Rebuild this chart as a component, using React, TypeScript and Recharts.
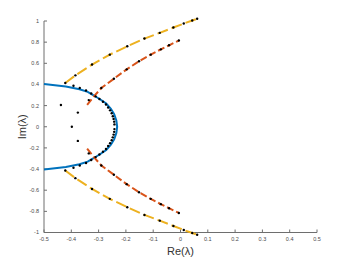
import React from 'react';
import { Label, Scatter, ScatterChart, XAxis, YAxis } from 'recharts';

// eigenvalue locus, (Re, Im) pairs
const bluePath: [number, number][] = [
  [-0.5, 0.404], [-0.42, 0.381], [-0.37, 0.355], [-0.34, 0.33], [-0.32, 0.3],
  [-0.295, 0.26], [-0.272, 0.22], [-0.255, 0.17], [-0.243, 0.12], [-0.235, 0.06],
  [-0.232, 0], [-0.235, -0.06], [-0.243, -0.12], [-0.255, -0.17], [-0.272, -0.22],
  [-0.295, -0.26], [-0.32, -0.3], [-0.34, -0.33], [-0.37, -0.355], [-0.42, -0.381],
  [-0.5, -0.404],
];

const redUpper: [number, number][] = [
  [-0.342, 0.208], [-0.318, 0.285], [-0.29, 0.366], [-0.244, 0.454], [-0.197, 0.543],
  [-0.152, 0.619], [-0.109, 0.682], [-0.072, 0.732], [-0.042, 0.77], [-0.006, 0.815],
];
const redLower: [number, number][] = [
  [-0.342, -0.208], [-0.318, -0.285], [-0.29, -0.366], [-0.244, -0.454], [-0.197, -0.543],
  [-0.152, -0.619], [-0.109, -0.682], [-0.072, -0.732], [-0.042, -0.77], [-0.006, -0.815],
];

const yellowUpper: [number, number][] = [
  [-0.422, 0.414], [-0.385, 0.486], [-0.324, 0.588], [-0.259, 0.682], [-0.195, 0.761],
  [-0.132, 0.834], [-0.076, 0.888], [-0.026, 0.938], [0.012, 0.976], [0.043, 1.005],
  [0.061, 1.021],
];
const yellowLower: [number, number][] = [
  [-0.422, -0.414], [-0.385, -0.486], [-0.324, -0.588], [-0.259, -0.682], [-0.195, -0.761],
  [-0.132, -0.834], [-0.076, -0.888], [-0.026, -0.938], [0.012, -0.976], [0.043, -1.005],
  [0.061, -1.021],
];

// computed eigenvalues (black dots)
const loopDots: [number, number][] = [
  [-0.392, 0.388], [-0.369, 0.366], [-0.346, 0.343], [-0.327, 0.315], [-0.311, 0.287],
  [-0.297, 0.262], [-0.284, 0.237], [-0.273, 0.21], [-0.265, 0.182], [-0.258, 0.155],
  [-0.252, 0.128], [-0.248, 0.1], [-0.245, 0.074], [-0.243, 0.048], [-0.242, 0.022],
  [-0.242, -0.022], [-0.243, -0.048], [-0.245, -0.074], [-0.248, -0.1], [-0.252, -0.128],
  [-0.258, -0.155], [-0.265, -0.182], [-0.273, -0.21], [-0.284, -0.237], [-0.297, -0.262],
  [-0.311, -0.287], [-0.327, -0.315], [-0.346, -0.343], [-0.369, -0.366], [-0.392, -0.388],
];
const strayDots: [number, number][] = [
  [-0.438, 0.205], [-0.376, 0.134], [-0.398, 0], [-0.376, -0.134],
  [-0.336, 0.252], [-0.336, -0.252],
];

const xTicks = [-0.5, -0.4, -0.3, -0.2, -0.1, 0, 0.1, 0.2, 0.3, 0.4, 0.5];
const yTicks = [-1, -0.8, -0.6, -0.4, -0.2, 0, 0.2, 0.4, 0.6, 0.8, 1];

const BLUE = '#0072BD';
const RED = '#D95319';
const YELLOW = '#EDB120';
const AXIS = '#6e6e6e';
const FONT = '"Liberation Sans", Arial, sans-serif';

const toPts = (arr: [number, number][]) => arr.map(([x, y]) => ({ x, y }));
const fmt = (v: number) => String(Math.round(v * 10) / 10);

const NoShape = () => <g />;
const Dot = (props: any) => <circle cx={props.cx} cy={props.cy} r={1.2} fill="#000" />;

const tickStyle = { fill: '#4a4a4a', fontSize: 5.5, fontFamily: FONT };

export default function App() {
  return (
    <div style={{ position: 'absolute', left: 0, top: 0, background: '#fff' }}>
      {/* the yellow branches run a little past Im = ±1, as in the original */}
      <style>{'.recharts-scatter { clip-path: none !important; }'}</style>
      <ScatterChart
        width={350}
        height={263}
        margin={{ top: 21, right: 33, bottom: 0, left: 0 }}
        style={{ fontFamily: FONT }}
      >
        <XAxis
          type="number"
          dataKey="x"
          domain={[-0.5, 0.5]}
          ticks={xTicks}
          tickFormatter={fmt}
          allowDataOverflow
          height={30.5}
          stroke={AXIS}
          tickSize={-3}
          tickMargin={8}
          tick={tickStyle}
        >
          <Label
            value="Re(λ)"
            position="insideBottom"
            offset={8.5}
            style={{ fill: '#333', fontSize: 11, fontFamily: FONT }}
          />
        </XAxis>
        <YAxis
          type="number"
          dataKey="y"
          domain={[-1, 1]}
          ticks={yTicks}
          tickFormatter={fmt}
          allowDataOverflow
          width={44}
          stroke={AXIS}
          tickSize={-3}
          tickMargin={8}
          tick={tickStyle}
        >
          <Label
            value="Im(λ)"
            position="center"
            angle={-90}
            style={{ fill: '#333', fontSize: 11, fontFamily: FONT }}
          />
        </YAxis>
        <Scatter
          data={toPts(bluePath)}
          line={{ stroke: BLUE, strokeWidth: 2 }}
          lineType="joint"
          shape={NoShape}
          isAnimationActive={false}
        />
        <Scatter
          data={toPts(redUpper)}
          line={{ stroke: RED, strokeWidth: 2, strokeDasharray: '7 3' }}
          lineType="joint"
          shape={NoShape}
          isAnimationActive={false}
        />
        <Scatter
          data={toPts(redLower)}
          line={{ stroke: RED, strokeWidth: 2, strokeDasharray: '7 3' }}
          lineType="joint"
          shape={NoShape}
          isAnimationActive={false}
        />
        <Scatter
          data={toPts(yellowUpper)}
          line={{ stroke: YELLOW, strokeWidth: 2, strokeDasharray: '11 4' }}
          lineType="joint"
          shape={NoShape}
          isAnimationActive={false}
        />
        <Scatter
          data={toPts(yellowLower)}
          line={{ stroke: YELLOW, strokeWidth: 2, strokeDasharray: '11 4' }}
          lineType="joint"
          shape={NoShape}
          isAnimationActive={false}
        />
        <Scatter data={toPts(loopDots)} shape={Dot} isAnimationActive={false} />
        <Scatter data={toPts(strayDots)} shape={Dot} isAnimationActive={false} />
        <Scatter data={toPts(redUpper.slice(2))} shape={Dot} isAnimationActive={false} />
        <Scatter data={toPts(redLower.slice(2))} shape={Dot} isAnimationActive={false} />
        <Scatter data={toPts(yellowUpper)} shape={Dot} isAnimationActive={false} />
        <Scatter data={toPts(yellowLower)} shape={Dot} isAnimationActive={false} />
      </ScatterChart>
    </div>
  );
}
